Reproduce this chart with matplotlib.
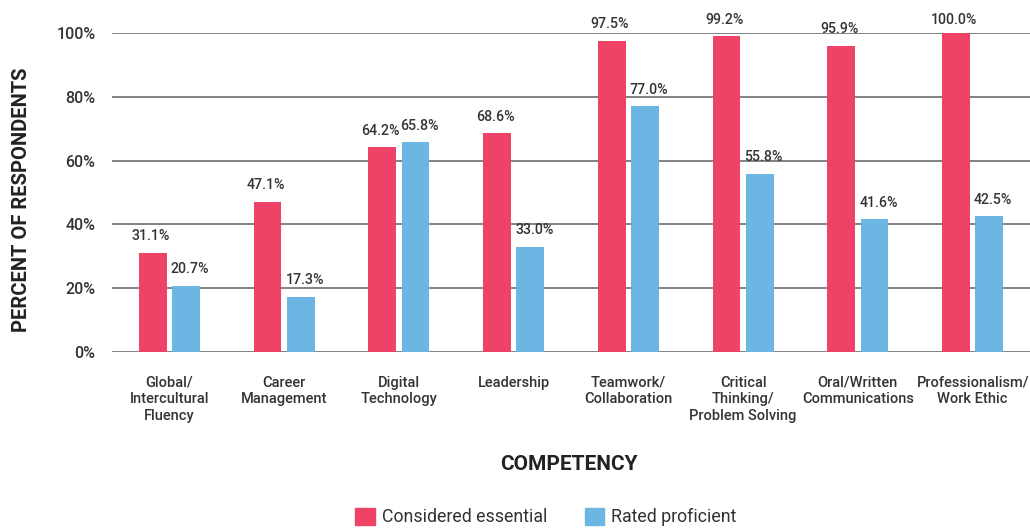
import matplotlib
matplotlib.use("Agg")
import matplotlib.pyplot as plt
import numpy as np
from matplotlib.patches import Patch

categories = ["Global/\nIntercultural\nFluency", "Career\nManagement", "Digital\nTechnology",
              "Leadership", "Teamwork/\nCollaboration", "Critical\nThinking/\nProblem Solving",
              "Oral/Written\nCommunications", "Professionalism/\nWork Ethic"]
essential = [31.1, 47.1, 64.2, 68.6, 97.5, 99.2, 95.9, 100.0]
proficient = [20.7, 17.3, 65.8, 33.0, 77.0, 55.8, 41.6, 42.5]
yticks = [0, 20, 40, 60, 80, 100]

plt.rcParams['font.family'] = ['Roboto', 'DejaVu Sans']

red = "#EE4266"
blue = "#6CB6E4"
txt = "#333333"

fig = plt.figure(figsize=(10.30, 5.29), dpi=100)
ax = fig.add_axes([112/1030, 1-352/529, (1030-112)/1030, (352-33)/529])

x = np.arange(len(categories))
w = 0.24
off = 0.145
ax.bar(x - off, essential, w, color=red, zorder=3)
ax.bar(x + off, proficient, w, color=blue, zorder=3)

for xi, v in zip(x, essential):
    ax.text(xi - off - 0.015, min(v + 5.2, 104), f"{v:.1f}%", ha="center", va="center",
            fontsize=10.2, color=txt, fontweight="medium")
for xi, v in zip(x, proficient):
    ax.text(xi + off + 0.035, min(v + 5.2, 104), f"{v:.1f}%", ha="center", va="center",
            fontsize=10.2, color=txt, fontweight="medium")

ax.set_xlim(-0.5, 7.5)
ax.set_ylim(0, 100)
ax.set_yticks(yticks)
ax.set_yticklabels([f"{t}%" for t in yticks], fontsize=11.5, color=txt, fontweight="medium")
ax.set_xticks(x)
ax.set_xticklabels(categories, fontsize=10.5, color=txt, linespacing=1.25, fontweight="medium")
ax.tick_params(axis="y", length=0, pad=12)
ax.tick_params(axis="x", length=0, pad=17)
ax.grid(axis="y", color="#777777", linewidth=1.3, zorder=0)
ax.set_axisbelow(True)
for s in ax.spines.values():
    s.set_visible(False)

fig.text(22/1030, 1-200/529, "PERCENT OF RESPONDENTS", rotation=90, ha="center", va="center",
         fontsize=14.5, fontweight="bold", color="#222222")
fig.text(569/1030, 1-465/529, "COMPETENCY", ha="center", va="center",
         fontsize=15, fontweight="bold", color="#222222")

handles = [Patch(color=red, label="Considered essential"), Patch(color=blue, label="Rated proficient")]
leg = fig.legend(handles=handles, loc="center", bbox_to_anchor=(546/1030, 1-517/529), ncol=2,
                 frameon=False, fontsize=12.8, handlelength=1.1, handleheight=1.1, columnspacing=2.1,
                 handletextpad=0.4)
for t in leg.get_texts():
    t.set_color(txt)

fig.savefig("out.png", dpi=100)
